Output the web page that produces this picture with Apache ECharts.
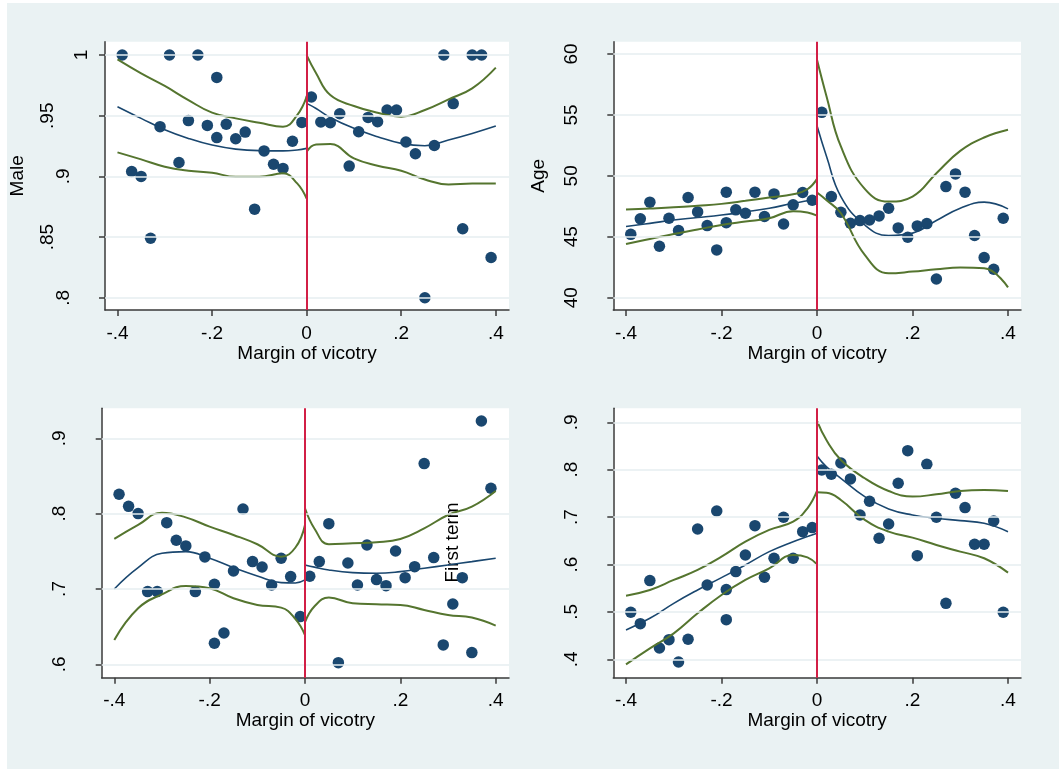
<!DOCTYPE html>
<html><head><meta charset="utf-8">
<script src="https://cdn.jsdelivr.net/npm/echarts@6/dist/echarts.min.js"></script>
<style>html,body{margin:0;padding:0;background:#fff;width:1059px;height:769px;overflow:hidden}
#c{position:absolute;left:7px;top:3px;width:1052px;height:766px}</style>
</head><body><div id="c"></div>
<script>
// ---- bin centres (margin of victory) ----
const binX = [-0.39,-0.37,-0.35,-0.33,-0.31,-0.29,-0.27,-0.25,-0.23,-0.21,-0.19,-0.19,-0.17,-0.15,-0.13,-0.11,-0.09,-0.07,-0.05,-0.03,-0.01,
  0.01,0.03,0.05,0.07,0.09,0.11,0.13,0.15,0.17,0.19,0.21,0.23,0.25,0.27,0.29,0.31,0.33,0.35,0.37,0.39];
// ---- bin means ----
const male = [1.0,0.904,0.900,0.849,0.941,1.0,0.9115,0.946,1.0,0.942,0.9816,0.932,0.943,0.931,0.9365,0.873,0.921,0.910,0.9066,0.929,0.9445,
  0.9654,0.9448,0.9442,0.9516,0.9085,0.9368,0.9486,0.945,0.9547,0.9547,0.9283,0.9187,0.80,0.9255,1.0,0.96,0.8569,1.0,1.0,0.8332];
const age = [45.2,46.47,47.84,44.22,46.52,45.51,48.22,47.04,45.92,43.92,48.66,46.16,47.21,46.93,48.66,46.66,48.52,46.05,47.62,48.63,48.0,
  55.21,48.3,47.01,46.11,46.33,46.38,46.71,47.34,45.73,44.96,45.89,46.08,41.53,49.12,50.16,48.66,45.1,43.29,42.33,46.52];
const firstTerm = [0.8257,0.8097,0.800,0.6965,0.6965,0.788,0.7646,0.7571,0.6965,0.7425,0.7062,0.6279,0.6416,0.7239,0.8062,0.7363,0.7292,0.7053,0.7407,0.7164,0.6633,
  0.7168,0.7363,0.7867,0.6022,0.7345,0.7053,0.7584,0.7124,0.7044,0.7504,0.715,0.7296,0.8664,0.7416,0.6257,0.68,0.715,0.6155,0.923,0.8336];
const panel4 = [0.4992,0.4752,0.566,0.4239,0.4415,0.3944,0.4422,0.675,0.5568,0.7129,0.547,0.4837,0.585,0.6201,0.682,0.573,0.6131,0.6996,0.6131,0.6693,0.6778,
  0.7994,0.7903,0.8142,0.7805,0.7045,0.7333,0.6553,0.6855,0.7713,0.8402,0.6187,0.8114,0.6996,0.5181,0.7502,0.72,0.6426,0.6426,0.6918,0.4992];

// ---- fitted curves: sample positions ----
const leftX  = [-0.4,-0.35,-0.3,-0.25,-0.2,-0.15,-0.1,-0.05,-0.02,0];
const rightX = [0,0.02,0.05,0.1,0.15,0.2,0.25,0.3,0.35,0.4];
// Male
const maleFitL = [0.9574,0.9478,0.9385,0.9313,0.9258,0.9225,0.9212,0.921,0.9218,0.9231];
const maleHiL  = [0.9964,0.9849,0.9745,0.9629,0.9525,0.9478,0.9442,0.9409,0.9505,0.9657];
const maleLoL  = [0.9198,0.914,0.908,0.9047,0.903,0.8997,0.8997,0.9025,0.8942,0.8816];
const maleFitR = [0.9602,0.956,0.9486,0.9396,0.9327,0.9272,0.9253,0.93,0.9354,0.9415];
const maleHiR  = [1.0,0.985,0.967,0.958,0.9525,0.9492,0.9547,0.9635,0.9725,0.9896];
const maleLoR  = [0.9203,0.9262,0.9266,0.9148,0.9088,0.9047,0.8975,0.8934,0.8942,0.8942];
// Age
const ageFitL = [45.84,46.1,46.38,46.58,46.79,47.05,47.34,47.75,47.95,48.11];
const ageHiL  = [47.23,47.32,47.42,47.55,47.7,47.95,48.22,48.49,48.9,49.75];
const ageLoL  = [44.41,44.82,45.23,45.6,45.97,46.25,46.52,47.1,47.0,46.74];
const ageFitR = [54.11,51.59,48.3,45.97,45.1,45.3,46.33,47.34,47.84,47.29];
const ageHiR  = [59.53,56.52,52.41,48.93,47.89,48.3,50.22,52.05,53.15,53.78];
const ageLoR  = [48.63,48.0,46.93,43.51,42.0,42.14,42.33,42.47,42.41,40.85];
// First term
const ftFitL = [0.70,0.7283,0.7473,0.7496,0.7407,0.7283,0.7173,0.7084,0.708,0.712];
const ftHiL  = [0.7664,0.785,0.8013,0.795,0.7827,0.7717,0.7593,0.7429,0.755,0.785];
const ftLoL  = [0.6323,0.6743,0.6929,0.704,0.7009,0.6876,0.6788,0.6752,0.660,0.6389];
const ftFitR = [0.7319,0.729,0.7252,0.7217,0.7208,0.723,0.7274,0.7319,0.7363,0.7407];
const ftHiR  = [0.8071,0.78,0.7593,0.7606,0.7619,0.7664,0.7805,0.7982,0.8093,0.8301];
const ftLoR  = [0.6558,0.677,0.6885,0.681,0.6796,0.6788,0.6721,0.6655,0.662,0.6513];
// Panel 4
const p4FitL = [0.4619,0.4865,0.5181,0.5463,0.5723,0.599,0.6271,0.6482,0.659,0.6658];
const p4HiL  = [0.5343,0.5463,0.5674,0.5885,0.6166,0.6482,0.6729,0.6904,0.7186,0.7551];
const p4LoL  = [0.3894,0.4232,0.4548,0.497,0.5357,0.5674,0.592,0.6201,0.615,0.6004];
const p4FitR = [0.829,0.806,0.7819,0.7432,0.7172,0.7045,0.6975,0.6925,0.6869,0.6693];
const p4HiR  = [0.9028,0.862,0.8205,0.7819,0.7551,0.7432,0.7481,0.7551,0.7572,0.7551];
const p4LoR  = [0.7523,0.7515,0.7361,0.694,0.6693,0.6567,0.6412,0.6271,0.6131,0.5828];

// ---- ticks ----
const xTicks = [-0.4,-0.2,0,0.2,0.4];
const maleTicks = [0.8,0.85,0.9,0.95,1];
const ageTicks = [40,45,50,55,60];
const ftTicks = [0.6,0.7,0.8,0.9];
const p4Ticks = [0.4,0.5,0.6,0.7,0.8,0.9];
const xTitle = 'Margin of vicotry';

const FONT = "'Liberation Sans', Arial, sans-serif";
const NAVY = '#1a476f', GREEN = '#55752f', RED = '#d21f46', AXIS = '#3a3a3a', GRIDC = '#e6eef0';

function fmt(v){
  let s = String(+Number(v).toFixed(4));
  if (s.startsWith('0.')) s = s.slice(1);
  else if (s.startsWith('-0.')) s = '-' + s.slice(2);
  return s;
}
const zip = (xs, ys) => xs.map((x, i) => [x, ys[i]]);

const grids = [
  {left:94.7, top:38.7, width:407.3, height:268.3},
  {left:606.3, top:38.7, width:407.7, height:268.3},
  {left:94.7, top:405.3, width:407.3, height:269.4},
  {left:606.3, top:405.3, width:407.7, height:269.4}
];
const xr = [[-0.4264,0.4279],[-0.4266,0.4272],[-0.4264,0.4279],[-0.4266,0.4272]];
const yr = [[0.7899,1.011],[38.99,61.01],[0.5822,0.9398],[0.3612,0.9295]];
const yTicksAll = [maleTicks, ageTicks, ftTicks, p4Ticks];
const yNames = ['Male','Age','',''];
const yGaps = [78, 65, 60, 60];
const pts = [male, age, firstTerm, panel4];
const curves = [
  [maleFitL,maleHiL,maleLoL,maleFitR,maleHiR,maleLoR],
  [ageFitL,ageHiL,ageLoL,ageFitR,ageHiR,ageLoR],
  [ftFitL,ftHiL,ftLoL,ftFitR,ftHiR,ftLoR],
  [p4FitL,p4HiL,p4LoL,p4FitR,p4HiR,p4LoR]
];

const labelStyle = {fontSize:19, fontFamily:FONT, color:'#000'};
const xAxes = [], yAxes = [], series = [];
for (let i = 0; i < 4; i++) {
  xAxes.push({
    gridIndex:i, type:'value', min:xr[i][0], max:xr[i][1],
    name:xTitle, nameLocation:'middle', nameGap:33,
    nameTextStyle:{fontSize:19, fontFamily:FONT, color:'#000'},
    axisLine:{show:true, onZero:false, lineStyle:{color:AXIS, width:1.5}},
    axisTick:{show:true, customValues:xTicks, length:6, lineStyle:{color:AXIS, width:1.5}},
    axisLabel:Object.assign({customValues:xTicks, margin:14, formatter:fmt}, labelStyle),
    splitLine:{show:false}
  });
  yAxes.push({
    gridIndex:i, type:'value', min:yr[i][0], max:yr[i][1],
    name:yNames[i], nameLocation:'middle', nameGap:yGaps[i],
    nameTextStyle:{fontSize:19, fontFamily:FONT, color:'#000'},
    axisLine:{show:true, onZero:false, lineStyle:{color:AXIS, width:1.5}},
    axisTick:{show:true, customValues:yTicksAll[i], length:6, lineStyle:{color:AXIS, width:1.5}},
    axisLabel:{customValues:yTicksAll[i], rotate:90, margin:14, hideOverlap:false,
      formatter: v => { const s = fmt(v); return '{l' + Math.min(s.length,3) + '|' + s + '}'; },
      rich:{
        l1:Object.assign({padding:[0,0,0,0]}, labelStyle),
        l2:Object.assign({padding:[0,0,18,0]}, labelStyle),
        l3:Object.assign({padding:[0,0,34,0]}, labelStyle)
      }},
    splitLine:{show:false}
  });
  // gridlines + cutoff line
  series.push({
    type:'line', xAxisIndex:i, yAxisIndex:i, data:[], z:1, silent:true,
    markLine:{
      symbol:['none','none'], silent:true, animation:false, label:{show:false},
      data: yTicksAll[i].map(t => ({yAxis:t, lineStyle:{color:GRIDC, width:1.5, type:'solid'}}))
        .concat([{xAxis:0, lineStyle:{color:RED, width:2, type:'solid'}}])
    }
  });
  series.push({
    type:'scatter', xAxisIndex:i, yAxisIndex:i, z:3, symbol:'circle', symbolSize:11.5,
    itemStyle:{color:NAVY, opacity:1}, data:zip(binX, pts[i])
  });
  const c = curves[i];
  const colors = [NAVY, GREEN, GREEN, NAVY, GREEN, GREEN];
  const widths = [1.6, 2, 2, 1.6, 2, 2];
  for (let k = 0; k < 6; k++) {
    series.push({
      type:'line', xAxisIndex:i, yAxisIndex:i, z:4, showSymbol:false, symbol:'none',
      smooth:0.45,
      lineStyle:{color:colors[k], width:widths[k]},
      data:zip(k < 3 ? leftX : rightX, c[k])
    });
  }
}

const chart = echarts.init(document.getElementById('c'), null, {renderer:'canvas'});
chart.setOption({
  animation:false,
  backgroundColor:'#eaf2f3',
  grid: grids.map(g => Object.assign({show:true, backgroundColor:'#ffffff', borderWidth:0, containLabel:false}, g)),
  xAxis:xAxes, yAxis:yAxes, series:series,
  graphic:[{
    type:'text', x:445.5, y:539.5, rotation:Math.PI/2,
    style:{text:'First term', fontSize:19, fontFamily:FONT, fill:'#000', align:'center', verticalAlign:'middle'}
  }]
});
</script></body></html>
